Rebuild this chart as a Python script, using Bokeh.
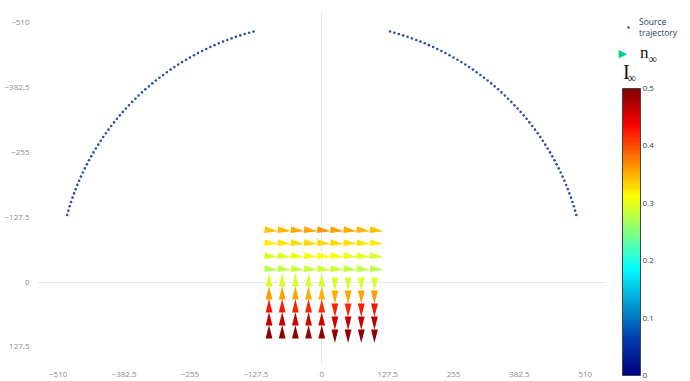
import numpy as np
from bokeh.plotting import figure
from bokeh.layouts import row
from bokeh.models import (ColumnDataSource, Range1d, FixedTicker, LinearColorMapper,
                          ColorBar, Legend, LegendItem, Label)
from bokeh.transform import linear_cmap
from bokeh.embed import file_html
from bokeh.resources import INLINE

# ---------------- data ----------------
traj_radius = 510
traj_angle_left = [-165, -164, -163, -162, -161, -160, -159, -158, -157, -156, -155, -154,
                   -153, -152, -151, -150, -149, -148, -147, -146, -145, -144, -143, -142,
                   -141, -140, -139, -138, -137, -136, -135, -134, -133, -132, -131, -130,
                   -129, -128, -127, -126, -125, -124, -123, -122, -121, -120, -119, -118,
                   -117, -116, -115, -114, -113, -112, -111, -110, -109, -108, -107, -106, -105]
traj_angle_right = [-75, -74, -73, -72, -71, -70, -69, -68, -67, -66, -65, -64,
                    -63, -62, -61, -60, -59, -58, -57, -56, -55, -54, -53, -52,
                    -51, -50, -49, -48, -47, -46, -45, -44, -43, -42, -41, -40,
                    -39, -38, -37, -36, -35, -34, -33, -32, -31, -30, -29, -28,
                    -27, -26, -25, -24, -23, -22, -21, -20, -19, -18, -17, -16, -15]

grid_x = [-102, -76.5, -51, -25.5, 0, 25.5, 51, 76.5, 102]
grid_y = [-102, -76.5, -51, -25.5, 0, 25.5, 51, 76.5, 102]

# intensity I_inf per cell (rows follow grid_y, columns follow grid_x)
intensity = [
    [0.340, 0.347, 0.352, 0.357, 0.362, 0.357, 0.352, 0.347, 0.340],
    [0.322, 0.325, 0.328, 0.330, 0.332, 0.330, 0.328, 0.325, 0.322],
    [0.293, 0.298, 0.303, 0.308, 0.312, 0.308, 0.303, 0.298, 0.293],
    [0.278, 0.281, 0.284, 0.287, 0.290, 0.287, 0.284, 0.281, 0.278],
    [0.296, 0.294, 0.292, 0.290, 0.290, 0.290, 0.292, 0.294, 0.296],
    [0.360, 0.356, 0.354, 0.352, 0.350, 0.352, 0.354, 0.356, 0.360],
    [0.428, 0.424, 0.420, 0.418, 0.416, 0.418, 0.420, 0.424, 0.428],
    [0.466, 0.464, 0.462, 0.460, 0.458, 0.460, 0.462, 0.464, 0.466],
    [0.494, 0.493, 0.492, 0.490, 0.489, 0.490, 0.492, 0.493, 0.494],
]
# direction of n_inf per cell, degrees on screen (0 = right, 90 = up)
direction = [
    [-6, -6, -6, -6, -6, -6, -6, -6, -6],
    [-6, -6, -6, -6, -6, -6, -6, -6, -6],
    [-6, -6, -6, -6, -6, -6, -6, -6, -6],
    [-6, -6, -6, -6, -6, -6, -6, -6, -6],
    [90, 90, 90, 90, 90, -90, -90, -90, -90],
    [90, 90, 90, 90, 90, -90, -90, -90, -90],
    [90, 90, 90, 90, 90, -90, -90, -90, -90],
    [90, 90, 90, 90, 90, -90, -90, -90, -90],
    [90, 90, 90, 90, 90, -90, -90, -90, -90],
]

axis_ticks = [-510, -382.5, -255, -127.5, 0, 127.5, 255, 382.5, 510]
axis_tick_labels = ["−510", "−382.5", "−255", "−127.5", "0", "127.5", "255", "382.5", "510"]
y_ticks = [-510, -382.5, -255, -127.5, 0, 127.5]
y_tick_labels = ["−510", "−382.5", "−255", "−127.5", "0", "127.5"]
cbar_ticks = [0, 0.1, 0.2, 0.3, 0.4, 0.5]
cbar_tick_labels = ["0", "0.1", "0.2", "0.3", "0.4", "0.5"]
cbar_low, cbar_high = 0, 0.5

# ---------------- Jet colourscale ----------------
jet_stops = [0, 0.125, 0.375, 0.625, 0.875, 1]
jet_rgb = [(0, 0, 131), (0, 60, 170), (5, 255, 255), (255, 255, 0), (250, 0, 0), (128, 0, 0)]
tt = np.linspace(0, 1, 256)
chans = [np.interp(tt, jet_stops, [c[i] for c in jet_rgb]) for i in range(3)]
jet = ["#%02x%02x%02x" % (int(round(r)), int(round(g)), int(round(b)))
       for r, g, b in zip(*chans)]

# ---------------- main figure ----------------
X0, X1 = -550, 551
Y_BOTTOM, Y_TOP = 164, -534
W, H = 606, 381
ML, MR, MT, MB = 37, 0, 10, 16
fw, fh = W - ML - MR, H - MT - MB

p = figure(width=W, height=H, x_range=Range1d(X0, X1), y_range=Range1d(Y_BOTTOM, Y_TOP),
           output_backend="svg", toolbar_location=None,
           min_border_left=ML, min_border_right=MR, min_border_top=MT, min_border_bottom=MB)
p.outline_line_color = None

for ax, ticks, labels in ((p.xaxis[0], axis_ticks, axis_tick_labels),
                          (p.yaxis[0], y_ticks, y_tick_labels)):
    ax.ticker = FixedTicker(ticks=ticks)
    ax.major_label_overrides = {t: l for t, l in zip(ticks, labels)}
    ax.axis_line_color = None
    ax.major_tick_line_color = None
    ax.minor_tick_line_color = None
    ax.major_label_text_font = "Open Sans"
    ax.major_label_text_font_size = "8px"
    ax.major_label_text_color = "#8a8a8a"
p.xaxis.major_label_standoff = 0
p.yaxis.major_label_standoff = 2

p.xgrid.ticker = FixedTicker(ticks=[0])
p.ygrid.ticker = FixedTicker(ticks=[0])
p.xgrid.grid_line_color = "#e6e9f2"
p.ygrid.grid_line_color = "#e6e9f2"

TRAJ_COLOR = "#2c4ea8"
ARROW_LEGEND_COLOR = "#00cc96"

# trajectory
ang = np.radians(np.array(traj_angle_left + traj_angle_right, dtype=float))
traj_src = ColumnDataSource(dict(x=traj_radius * np.cos(ang), y=traj_radius * np.sin(ang)))
p.scatter("x", "y", source=traj_src, marker="circle", size=2.6,
          fill_color=TRAJ_COLOR, line_color=None)

# arrows (elongated triangles, centred on centroid)
sx = fw / (X1 - X0)            # px per data unit, x
sy = fh / (Y_BOTTOM - Y_TOP)   # px per data unit, y
L_PX, W_PX = 13.5, 6.8
xs, ys, vals = [], [], []
for i, yv in enumerate(grid_y):
    for j, xv in enumerate(grid_x):
        th = np.radians(direction[i][j])
        ux, uy = np.cos(th), np.sin(th)       # screen direction (y up)
        nx, ny = -uy, ux
        pts = [(ux * L_PX * 2 / 3, uy * L_PX * 2 / 3),
               (-ux * L_PX / 3 + nx * W_PX / 2, -uy * L_PX / 3 + ny * W_PX / 2),
               (-ux * L_PX / 3 - nx * W_PX / 2, -uy * L_PX / 3 - ny * W_PX / 2)]
        xs.append([xv + px / sx for px, py in pts])
        ys.append([yv - py / sy for px, py in pts])
        vals.append(intensity[i][j])
arr_src = ColumnDataSource(dict(xs=xs, ys=ys, val=vals))
p.patches("xs", "ys", source=arr_src,
          fill_color=linear_cmap("val", jet, cbar_low, cbar_high), line_color=None)

# ---------------- side panel: legend + colour bar ----------------
SW = 84
side = figure(width=SW, height=H, x_range=Range1d(0, 1), y_range=Range1d(0, 1),
              output_backend="svg", toolbar_location=None,
              x_axis_location=None, y_axis_location=None,
              min_border_left=0, min_border_right=0, min_border_top=MT, min_border_bottom=MB)
side.outline_line_color = None
side.xgrid.visible = False
side.ygrid.visible = False

# legend proxies (share the trajectory source; points fall outside this panel's ranges)
leg_traj = side.scatter("x", "y", source=traj_src, marker="circle", size=3,
                        fill_color=TRAJ_COLOR, line_color=None)
leg_tri = side.scatter("x", "y", source=traj_src, marker="triangle",
                       fill_alpha=0, line_alpha=0)

leg1 = Legend(items=[LegendItem(label="Source\ntrajectory", renderers=[leg_traj])],
              location=(19, 327), glyph_width=6, glyph_height=6, label_standoff=8,
              label_text_font="Open Sans", label_text_font_size="8.5px",
              label_text_color="#2a3f5f", padding=0, margin=0, border_line_color=None,
              background_fill_alpha=0, label_height=20)
leg2 = Legend(items=[LegendItem(label="n", renderers=[leg_tri])],
              location=(7, 302), glyph_width=20, glyph_height=20, label_standoff=7,
              label_text_font="Liberation Serif", label_text_font_size="17px",
              label_text_color="#111111", padding=0, margin=0, border_line_color=None,
              background_fill_alpha=0)
side.add_layout(leg1)
side.add_layout(leg2)
# right-pointing legend marker for n_inf
side.add_layout(Label(x=12, y=312, x_units="screen", y_units="screen", text="▶",
                      text_font="DejaVu Sans", text_font_size="11px",
                      text_baseline="middle", text_color=ARROW_LEGEND_COLOR))
side.add_layout(Label(x=42, y=306.5, x_units="screen", y_units="screen", text="∞",
                      text_font="Liberation Serif", text_font_size="12px",
                      text_baseline="middle", text_color="#111111"))

mapper = LinearColorMapper(palette=jet, low=cbar_low, high=cbar_high)
cb = ColorBar(color_mapper=mapper, ticker=FixedTicker(ticks=cbar_ticks),
              major_label_overrides={t: l for t, l in zip(cbar_ticks, cbar_tick_labels)},
              width=18, height=287, location=(16, -10), padding=0, margin=0,
              major_label_text_font="Open Sans", major_label_text_font_size="8px",
              major_label_text_color="#2a3f5f", label_standoff=2,
              major_tick_line_color=None, minor_tick_line_color=None,
              bar_line_color="#444444", bar_line_width=1,
              background_fill_alpha=0, border_line_color=None)
side.add_layout(cb)
side.add_layout(Label(x=16.5, y=293.5, x_units="screen", y_units="screen", text="I",
                      text_font="Liberation Serif", text_font_size="20px",
                      text_baseline="middle", text_color="#111111"))
side.add_layout(Label(x=21, y=287.5, x_units="screen", y_units="screen", text="∞",
                      text_font="Liberation Serif", text_font_size="12px",
                      text_baseline="middle", text_color="#111111"))

layout = row(p, side, spacing=0)
open("out.html", "w").write(file_html(layout, INLINE))
